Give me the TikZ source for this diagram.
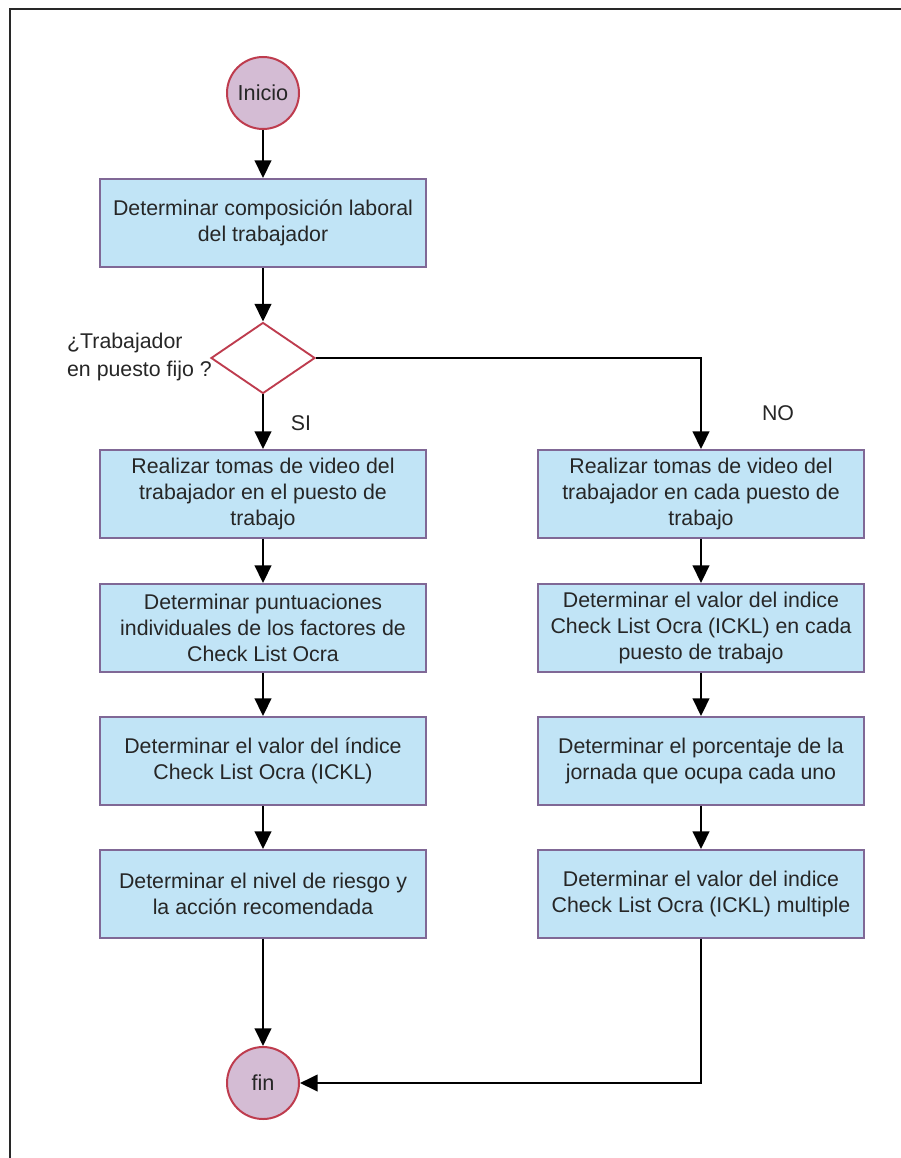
\documentclass[tikz,border=0pt]{standalone}
\usepackage{fontspec}
\setmainfont{Liberation Sans}
\usetikzlibrary{shapes.geometric,arrows.meta}
\definecolor{boxfill}{RGB}{193,228,246}
\definecolor{boxborder}{RGB}{128,104,150}
\definecolor{circfill}{RGB}{212,188,212}
\definecolor{redline}{RGB}{190,60,78}
\definecolor{frame}{RGB}{40,40,40}
\tikzset{
  proc/.style={draw=boxborder, fill=boxfill, line width=1.6pt, rectangle,
    minimum width=9.78cm, minimum height=2.64cm, inner sep=0pt,
    align=center, font=\fontsize{18.2}{22.5}\selectfont, text=black!85},
  term/.style={draw=redline, fill=circfill, line width=1.7pt, circle,
    minimum size=2.16cm, inner sep=0pt, font=\fontsize{18.5}{22}\selectfont, text=black!85},
  decis/.style={draw=redline, fill=white, line width=1.6pt, diamond,
    minimum width=3.12cm, minimum height=2.13cm, inner sep=0pt},
  lbl/.style={font=\fontsize{18.2}{24}\selectfont, text=black!85},
  arr/.style={draw=black, line width=2.1pt, -{Triangle[width=14pt,length=15pt]}},
}
\begin{document}
\begin{tikzpicture}[x=0.03cm, y=-0.03cm]
\useasboundingbox (0,0) rectangle (900,1158);
\draw[frame, line width=2.2pt] (10,1160) -- (10,9) -- (902,9);

\node[term] (ini) at (263,93) {Inicio};
\node[proc] (b1) at (263,223) {Determinar composición laboral\\del trabajador};
\node[decis] (dec) at (263,358) {};
\node[lbl, anchor=west, align=left] (q) at (63,357) {¿Trabajador\\en puesto fijo ?};

\node[proc] (L2) at (263,494) {Realizar tomas de video del\\trabajador en el puesto de\\trabajo};
\node[proc] (L3) at (263,628) {Determinar puntuaciones\\individuales de los factores de\\Check List Ocra};
\node[proc] (L4) at (263,761) {Determinar el valor del índice\\Check List Ocra (ICKL)};
\node[proc] (L5) at (263,894) {Determinar el nivel de riesgo y\\la acción recomendada};

\node[proc] (R2) at (701,494) {Realizar tomas de video del\\trabajador en cada puesto de\\trabajo};
\node[proc] (R3) at (701,628) {Determinar el valor del indice\\Check List Ocra (ICKL) en cada\\puesto de trabajo};
\node[proc] (R4) at (701,761) {Determinar el porcentaje de la\\jornada que ocupa cada uno};
\node[proc] (R5) at (701,894) {Determinar el valor del indice\\Check List Ocra (ICKL) multiple};

\node[term] (fin) at (263,1083) {fin};

\node[lbl] (si) at (301,423) {SI};
\node[lbl] (no) at (778,413) {NO};

\draw[arr] (ini) -- (b1);
\draw[arr] (b1) -- (dec);
\draw[arr] (dec) -- (L2);
\draw[arr] (L2) -- (L3);
\draw[arr] (L3) -- (L4);
\draw[arr] (L4) -- (L5);
\draw[arr] (L5) -- (fin);
\draw[arr] (dec.east) -| (R2.north);
\draw[arr] (R2) -- (R3);
\draw[arr] (R3) -- (R4);
\draw[arr] (R4) -- (R5);
\draw[arr] (R5.south) |- (fin.east);
\end{tikzpicture}
\end{document}
